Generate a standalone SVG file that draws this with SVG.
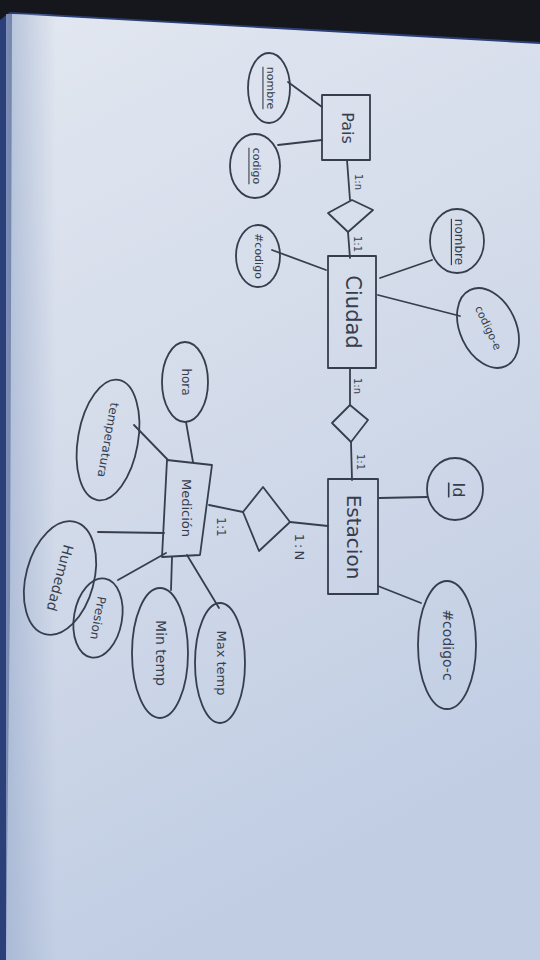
<svg xmlns="http://www.w3.org/2000/svg" width="540" height="960" viewBox="0 0 540 960">
<defs>
<linearGradient id="paper" x1="0" y1="0" x2="0.3" y2="1">
<stop offset="0" stop-color="#e2e7f0"/>
<stop offset="0.5" stop-color="#d3dbea"/>
<stop offset="1" stop-color="#c0cde3"/>
</linearGradient>
<linearGradient id="leftedge" x1="0" y1="0" x2="1" y2="0">
<stop offset="0" stop-color="#9fb0cf" stop-opacity="0.7"/>
<stop offset="1" stop-color="#9fb0cf" stop-opacity="0"/>
</linearGradient>
<style>
.s{fill:none;stroke:#363e4e;stroke-width:1.8;stroke-linejoin:round;stroke-linecap:round}
.t{font-family:"DejaVu Sans",sans-serif;fill:#363e4e;text-anchor:middle;dominant-baseline:central}
.u{text-decoration:underline}
</style>
</defs>
<rect x="0" y="0" width="540" height="960" fill="#15171c"/>
<polygon points="0,20 10,12 540,42 540,960 0,960" fill="#2b3f78"/>
<polygon points="12,14 540,44 540,960 6,960 10,600" fill="url(#paper)"/>
<rect x="6" y="14" width="50" height="946" fill="url(#leftedge)"/>
<g id="connectors">
<path class="s" d="M288,82 L322,107"/>
<path class="s" d="M278,145 L322,140"/>
<path class="s" d="M347,160 L350,200"/>
<path class="s" d="M348,232 L350,258"/>
<path class="s" d="M272,250 L326,270"/>
<path class="s" d="M380,278 L432,260"/>
<path class="s" d="M378,295 L460,316"/>
<path class="s" d="M350,368 L350,405"/>
<path class="s" d="M351,442 L352,480"/>
<path class="s" d="M379,498 L427,497"/>
<path class="s" d="M378,586 L421,603"/>
<path class="s" d="M328,526 L290,522"/>
<path class="s" d="M243,512 L209,505"/>
<path class="s" d="M186,422 L193,462"/>
<path class="s" d="M134,425 L168,460"/>
<path class="s" d="M98,532 L164,533"/>
<path class="s" d="M166,553 L118,580"/>
<path class="s" d="M172,557 L171,590"/>
<path class="s" d="M187,555 L219,608"/>
<text class="t" transform="translate(358,182) rotate(90)" font-size="10">1:n</text>
<text class="t" transform="translate(357,244) rotate(90)" font-size="10">1:1</text>
<text class="t" transform="translate(357,386) rotate(90)" font-size="10">1:n</text>
<text class="t" transform="translate(360,462) rotate(90)" font-size="10">1:1</text>
<text class="t" transform="translate(221,527) rotate(90)" font-size="12">1:1</text>
<text class="t" transform="translate(299,548) rotate(90)" font-size="13" letter-spacing="2">1:N</text>
</g>
<g id="pais">
<rect class="s" x="322" y="95" width="48" height="65"/>
<text class="t" transform="translate(347,128) rotate(90)" font-size="16">Pais</text>
</g>
<g id="pais-nombre">
<ellipse class="s" cx="269" cy="88" rx="21" ry="35"/>
<text class="t u" transform="translate(270,88) rotate(90)" font-size="11">nombre</text>
</g>
<g id="pais-codigo">
<ellipse class="s" cx="255" cy="166" rx="25" ry="32"/>
<text class="t u" transform="translate(256,166) rotate(90)" font-size="11">codigo</text>
</g>
<g id="rel-pais-ciudad">
<polygon class="s" points="328,213 352,200 373,210 348,232"/>
</g>
<g id="ciudad">
<rect class="s" x="328" y="256" width="48" height="112"/>
<text class="t" transform="translate(353,312) rotate(90)" font-size="21">Ciudad</text>
</g>
<g id="ciudad-codigo">
<ellipse class="s" cx="258" cy="256" rx="22" ry="31"/>
<text class="t" transform="translate(258,256) rotate(90)" font-size="11">#codigo</text>
</g>
<g id="ciudad-nombre">
<ellipse class="s" cx="457" cy="241" rx="27" ry="32"/>
<text class="t u" transform="translate(459,242) rotate(90)" font-size="12">nombre</text>
</g>
<g id="ciudad-codigo-e">
<ellipse class="s" cx="488" cy="328" rx="28" ry="42" transform="rotate(-25 488 328)"/>
<text class="t" transform="translate(488,328) rotate(65)" font-size="11">codigo-e</text>
</g>
<g id="rel-ciudad-estacion">
<polygon class="s" points="350,405 368,420 351,442 332,423"/>
</g>
<g id="estacion">
<rect class="s" x="328" y="479" width="50" height="115"/>
<text class="t" transform="translate(354,537) rotate(90)" font-size="20">Estacion</text>
</g>
<g id="estacion-id">
<ellipse class="s" cx="455" cy="489" rx="28" ry="31"/>
<text class="t u" transform="translate(458,490) rotate(90)" font-size="16">Id</text>
</g>
<g id="estacion-codigo-c">
<ellipse class="s" cx="447" cy="645" rx="29" ry="64"/>
<text class="t" transform="translate(448,645) rotate(90)" font-size="14">#codigo-c</text>
</g>
<g id="rel-estacion-medicion">
<polygon class="s" points="263,487 290,522 259,551 243,512"/>
</g>
<g id="medicion">
<polygon class="s" points="167,460 212,465 200,555 162,557"/>
<text class="t" transform="translate(186,508) rotate(90)" font-size="13">Medición</text>
</g>
<g id="medicion-hora">
<ellipse class="s" cx="185" cy="382" rx="23" ry="40"/>
<text class="t" transform="translate(186,382) rotate(90)" font-size="12">hora</text>
</g>
<g id="medicion-temperatura">
<ellipse class="s" cx="108" cy="440" rx="30" ry="61" transform="rotate(10 108 440)"/>
<text class="t" transform="translate(108,440) rotate(100)" font-size="12">temperatura</text>
</g>
<g id="medicion-humedad">
<ellipse class="s" cx="60" cy="578" rx="34" ry="58" transform="rotate(15 60 578)"/>
<text class="t" transform="translate(60,578) rotate(105)" font-size="14">Humedad</text>
</g>
<g id="medicion-presion">
<ellipse class="s" cx="98" cy="618" rx="24" ry="40" transform="rotate(10 98 618)"/>
<text class="t" transform="translate(98,618) rotate(100)" font-size="12">Presion</text>
</g>
<g id="medicion-min-temp">
<ellipse class="s" cx="160" cy="653" rx="28" ry="65"/>
<text class="t" transform="translate(161,653) rotate(90)" font-size="14">Min temp</text>
</g>
<g id="medicion-max-temp">
<ellipse class="s" cx="220" cy="663" rx="25" ry="60"/>
<text class="t" transform="translate(221,663) rotate(90)" font-size="13">Max temp</text>
</g>
</svg>
